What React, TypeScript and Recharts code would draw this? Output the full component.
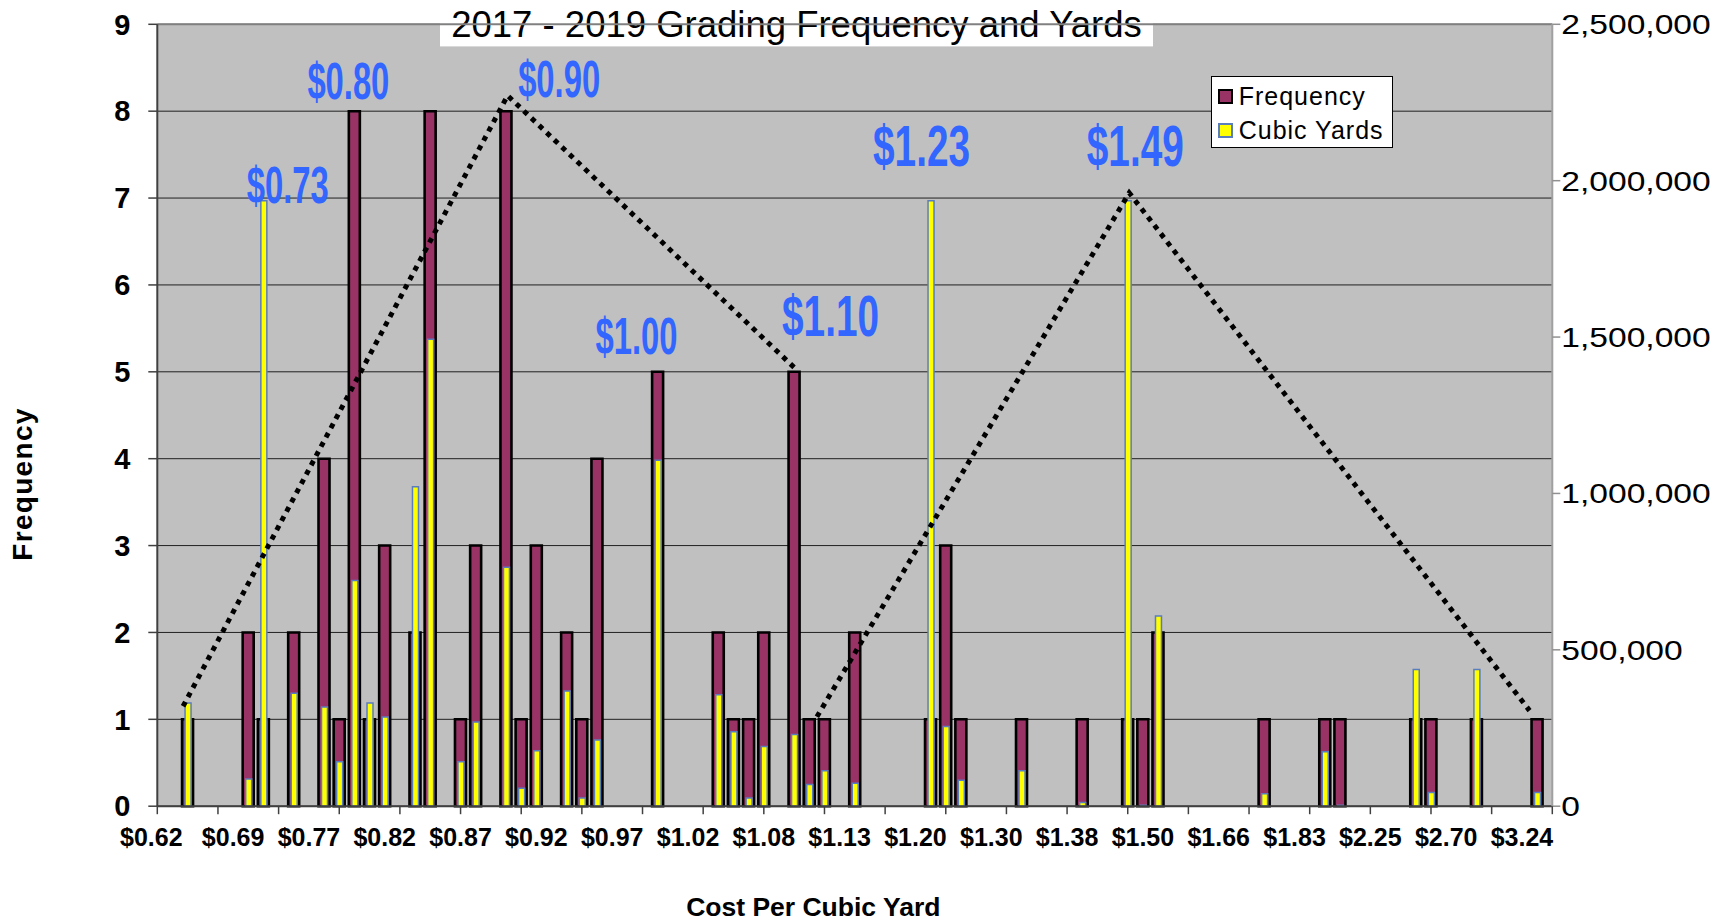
import React from 'react'
import {
  ComposedChart,
  Bar,
  Line,
  XAxis,
  YAxis,
  CartesianGrid,
  Legend,
  ReferenceDot,
  ReferenceLine,
  Customized,
} from 'recharts'

const FONT = '"Liberation Sans", Arial, sans-serif'

// cost steps on the axis run 0..92, a label every 5th step
const LAST_SLOT = 92
const costLabels = [
  '$0.62', '$0.69', '$0.77', '$0.82', '$0.87', '$0.92', '$0.97', '$1.02', '$1.08', '$1.13',
  '$1.20', '$1.30', '$1.38', '$1.50', '$1.66', '$1.83', '$2.25', '$2.70', '$3.24',
]

// steps that have jobs, with their counts and yardage
const slots = [
  2, 6, 7, 9, 11, 12, 13, 14, 15,
  17, 18, 20, 21, 23, 24, 25, 27, 28, 29,
  33, 37, 38, 39, 40, 42, 43, 44, 46,
  51, 52, 53, 57, 61,
  64, 65, 66, 73, 77, 78,
  83, 84, 87, 91,
]
const frequency = [
  1, 2, 1, 2, 4, 1, 8, 1, 3,
  2, 8, 1, 3, 8, 1, 3, 2, 1, 4,
  5, 2, 1, 1, 2, 5, 1, 1, 2,
  1, 3, 1, 1, 1,
  1, 1, 2, 1, 1, 1,
  1, 1, 1, 1,
]
const cubicYards = [
  330000, 87000, 1936000, 361000, 317000, 142000, 722000, 330000, 285000,
  1021000, 1493000, 142000, 269000, 764000, 57000, 177000, 368000, 26000, 212000,
  1106000, 356000, 238000, 26000, 191000, 229000, 69000, 113000, 73000,
  1936000, 255000, 83000, 113000, 12000,
  1936000, 3000, 608000, 40000, 174000, 3000,
  437000, 44000, 437000, 44000,
]

// dotted peak lines (step, frequency level)
const firstPeakSlots = [1.7, 23.1, 42]
const firstPeakLevels = [1.15, 8.18, 5.05]
const secondPeakSlots = [43.5, 64.1, 90.5]
const secondPeakLevels = [1.03, 7.06, 1.1]

// blue price callouts
const callouts = ['$0.73', '$0.80', '$0.90', '$1.00', '$1.10', '$1.23', '$1.49']
const calloutSlots = [8.6, 12.6, 26.5, 31.6, 44.4, 50.4, 64.5]
const calloutLevels = [6.94, 8.14, 8.16, 5.2, 5.41, 7.37, 7.37]

const rows = slots.map((k, i) => ({ k, frequency: frequency[i], cubicYards: cubicYards[i] }))
const firstPeak = firstPeakSlots.map((k, i) => ({ k, level: firstPeakLevels[i] }))
const secondPeak = secondPeakSlots.map((k, i) => ({ k, level: secondPeakLevels[i] }))

const axisTicks: number[] = []
for (let v = 0; v <= LAST_SLOT; v++) {
  if (v % 4 === 0 || v % 5 === 0) axisTicks.push(v)
}

const legendOrder = ['Frequency', 'Cubic Yards']
const swatchBorder: Record<string, string> = { Frequency: '#000', 'Cubic Yards': '#5a7dbd' }

function CostTick({ x, y, payload }: any) {
  const v = payload.value
  return (
    <g>
      {v % 4 === 0 && (
        <line x1={x} x2={x} y1={y} y2={y + 8} stroke="#404040" strokeWidth={1.5} />
      )}
      {v % 5 === 0 && (
        <text
          transform={`translate(${x - (v === 0 ? 6 : 0)},${y + 40}) scale(1,1.05)`}
          textAnchor="middle"
          fontSize={25}
          fontWeight={700}
          fontFamily={FONT}
          fill="#000"
        >
          {costLabels[v / 5]}
        </text>
      )}
    </g>
  )
}

function YardTick({ x, y, payload }: any) {
  return (
    <text
      transform={`translate(${x},${y}) scale(1.2,1)`}
      dy="0.355em"
      textAnchor="start"
      fontSize={28}
      fontFamily={FONT}
      fill="#000"
    >
      {Number(payload.value).toLocaleString('en-US')}
    </text>
  )
}

function PriceTag({ viewBox, text, big }: any) {
  if (!viewBox) return null
  const cx = viewBox.x + (viewBox.width || 0) / 2
  const cy = viewBox.y + (viewBox.height || 0) / 2
  const size = big ? 57 : 52
  const sx = big ? 0.68 : 0.63
  return (
    <text
      transform={`translate(${cx},${cy}) scale(${sx},1)`}
      textAnchor="middle"
      fontSize={size}
      fontWeight={700}
      fontFamily={FONT}
      fill="#3366FF"
    >
      {text}
    </text>
  )
}

function FrequencyTitle({ viewBox }: any) {
  const x = (viewBox?.x ?? 0) + 22
  return (
    <text
      transform={`translate(${x},484) rotate(-90)`}
      textAnchor="middle"
      dy="0.355em"
      fontSize={28}
      fontWeight={700}
      letterSpacing={1.3}
      fontFamily={FONT}
      fill="#000"
    >
      Frequency
    </text>
  )
}

function CostTitle({ viewBox }: any) {
  const x = (viewBox?.x ?? 0) + 656
  const y = (viewBox?.y ?? 0) + 110
  return (
    <text x={x} y={y} textAnchor="middle" fontSize={26.5} fontWeight={700} fontFamily={FONT} fill="#000">
      Cost Per Cubic Yard
    </text>
  )
}

function ChartTitle() {
  return (
    <g>
      <rect x={440} y={0} width={713} height={46.4} fill="#fff" />
      <text x={796.5} y={36.7} textAnchor="middle" fontSize={36.5} fontFamily={FONT} fill="#000">
        2017 - 2019 Grading Frequency and Yards
      </text>
    </g>
  )
}

function KeyBox({ payload }: any) {
  const items = legendOrder
    .map((name) => (payload || []).find((p: any) => p.value === name))
    .filter(Boolean)
  return (
    <div
      style={{
        border: '1.5px solid #000',
        background: '#fff',
        width: 182,
        height: 72,
        boxSizing: 'border-box',
        padding: '2px 0 0 6px',
        fontFamily: FONT,
      }}
    >
      {items.map((entry: any) => (
        <div
          key={entry.value}
          style={{ display: 'flex', alignItems: 'center', height: 34, fontSize: 25, letterSpacing: 1, color: '#000' }}
        >
          <span
            style={{
              display: 'inline-block',
              width: 11,
              height: 11,
              background: entry.color,
              border: `2px solid ${swatchBorder[entry.value] || '#000'}`,
              marginRight: 6,
            }}
          />
          {entry.value}
        </div>
      ))}
    </div>
  )
}

export default function App() {
  return (
    <div style={{ position: 'absolute', left: 0, top: 0, background: '#fff' }}>
      <ComposedChart width={1734} height={921} data={rows} margin={{ top: 24.3, right: 0, bottom: 0, left: 0 }}>
        <CartesianGrid
          xAxisId="f"
          yAxisId="f"
          vertical={false}
          stroke="#202020"
          fill="#c0c0c0"
          fillOpacity={1}
        />
        <XAxis
          xAxisId="f"
          type="number"
          dataKey="k"
          domain={[0, LAST_SLOT]}
          ticks={axisTicks}
          interval={0}
          tick={<CostTick />}
          tickLine={false}
          tickSize={0}
          tickMargin={0}
          axisLine={{ stroke: '#404040', strokeWidth: 2 }}
          height={114.8}
          label={<CostTitle />}
        />
        <XAxis xAxisId="c" type="number" dataKey="k" domain={[0, LAST_SLOT]} height={0} hide />
        <XAxis xAxisId="t" type="number" dataKey="k" domain={[0, LAST_SLOT]} height={0} hide />
        <YAxis
          yAxisId="f"
          domain={[0, 9]}
          ticks={[0, 1, 2, 3, 4, 5, 6, 7, 8, 9]}
          width={157.3}
          tickSize={9}
          tickMargin={18}
          tick={{ fontSize: 29, fontWeight: 700, fill: '#000', fontFamily: FONT }}
          tickLine={{ stroke: '#404040', strokeWidth: 1.5 }}
          axisLine={{ stroke: '#404040', strokeWidth: 2 }}
          label={<FrequencyTitle />}
        />
        <YAxis
          yAxisId="c"
          orientation="right"
          domain={[0, 2500000]}
          ticks={[0, 500000, 1000000, 1500000, 2000000, 2500000]}
          width={181.7}
          tickSize={8}
          tickMargin={1}
          tick={<YardTick />}
          tickLine={{ stroke: '#909090', strokeWidth: 1.5 }}
          axisLine={{ stroke: '#a0a0a0', strokeWidth: 2 }}
        />
        <ReferenceLine xAxisId="f" yAxisId="f" y={9} stroke="#808080" strokeWidth={2} />
        <Bar
          xAxisId="f"
          yAxisId="f"
          dataKey="frequency"
          name="Frequency"
          fill="#993366"
          stroke="#000"
          strokeWidth={2.6}
          barSize={11}
          isAnimationActive={false}
        />
        <Bar
          xAxisId="c"
          yAxisId="c"
          dataKey="cubicYards"
          name="Cubic Yards"
          fill="#ffff00"
          stroke="#5a7dbd"
          strokeWidth={1.5}
          barSize={6}
          isAnimationActive={false}
        />
        <Line
          xAxisId="t"
          yAxisId="f"
          data={firstPeak}
          dataKey="level"
          stroke="#000"
          strokeWidth={5}
          strokeDasharray="5 5.5"
          dot={false}
          legendType="none"
          isAnimationActive={false}
        />
        <Line
          xAxisId="t"
          yAxisId="f"
          data={secondPeak}
          dataKey="level"
          stroke="#000"
          strokeWidth={5}
          strokeDasharray="5 5.5"
          dot={false}
          legendType="none"
          isAnimationActive={false}
        />
        {callouts.map((text, i) => (
          <ReferenceDot
            key={text}
            xAxisId="t"
            yAxisId="f"
            x={calloutSlots[i]}
            y={calloutLevels[i]}
            r={0}
            ifOverflow="visible"
            label={<PriceTag text={text} big={i >= 4} />}
          />
        ))}
        <Legend
          layout="horizontal"
          verticalAlign="middle"
          align="center"
          content={<KeyBox />}
          wrapperStyle={{ left: 1210.7, top: 76, width: 182, height: 72 }}
        />
        <Customized component={<ChartTitle />} />
      </ComposedChart>
    </div>
  )
}
